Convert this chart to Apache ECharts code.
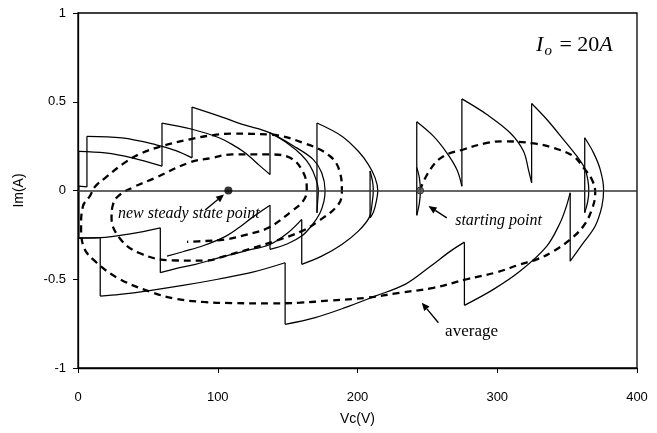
<!DOCTYPE html>
<html>
<head>
<meta charset="utf-8">
<script src="https://cdn.jsdelivr.net/npm/echarts/dist/echarts.min.js"></script>
<style>
  html, body { margin: 0; padding: 0; background: #ffffff; }
  #chart { width: 657px; height: 433px; }
</style>
</head>
<body>
<div id="chart"></div>
<script>
// Axis ticks
const xTicks = [0, 100, 200, 300, 400];
const yTicks = [-1, -0.5, 0, 0.5, 1];

// Solid trajectory, [Vc (V), Im (A)], one arc per entry; consecutive arcs are joined by switching jumps
const outerLoopArcs = [
  [[242.4, 0.13], [244.3, 0.07], [245, 0], [244.3, -0.07], [242.4, -0.14]],
  [[242.4, 0.387], [254.3, 0.306], [263.9, 0.212], [271.1, 0.118], [274.7, 0.024]],
  [[274.7, 0.516], [292.6, 0.428], [309.2, 0.325], [318.8, 0.221], [322.3, 0.118], [324.6, 0.043]],
  [[324.6, 0.49], [335.5, 0.40], [347.4, 0.287], [357, 0.193], [362.4, 0.128], [364.8, 0.06], [365.5, 0], [364.8, -0.06], [362.6, -0.125]],
  [[362.6, 0.297], [368.9, 0.212], [373.7, 0.118], [376.1, 0.006], [374.9, -0.088], [370.1, -0.2], [361.7, -0.294], [352.2, -0.398]],
  [[352.2, -0.013], [349, -0.1], [345, -0.182], [335.5, -0.313], [316.4, -0.454], [297.3, -0.557], [276.5, -0.647]],
  [[276.5, -0.291], [266.3, -0.343], [252, -0.428], [234, -0.529], [212.6, -0.595], [191.1, -0.66], [169.7, -0.716], [148.2, -0.754]],
  [[148.2, -0.407], [125, -0.46], [100, -0.5], [75, -0.535], [50, -0.565], [30, -0.585], [15.9, -0.595]],
  [[15.9, -0.266], [8, -0.267], [0.5, -0.268]]
];
const middleLoopArcs = [
  [[0.5, 0.221], [19.5, 0.212], [38.7, 0.184], [60.1, 0.137]],
  [[60.1, 0.38], [81.6, 0.345], [100, 0.3], [110.2, 0.26], [120, 0.21], [130, 0.14], [137.4, 0.09]],
  [[137.4, 0.325], [150, 0.265], [160, 0.2], [166, 0.14], [170, 0.07], [172, 0], [171.5, -0.06], [171, -0.125]],
  [[171, 0.38], [188.8, 0.306], [200.6, 0.221], [207.8, 0.146], [212.6, 0.071], [214.5, 0], [213.5, -0.06], [211.5, -0.12], [209, -0.154]],
  [[209, 0.11], [210.8, 0.05], [211.3, 0], [210.5, -0.07], [208.5, -0.15], [200.6, -0.229], [188.8, -0.304], [174.4, -0.37], [160.1, -0.416]],
  [[160.1, -0.163], [150, -0.24], [137.4, -0.304], [120, -0.34], [105, -0.37], [84, -0.416], [70, -0.44], [58.9, -0.463]],
  [[58.9, -0.21], [37.4, -0.244], [15.9, -0.266], [0.5, -0.268]]
];
const innerLoopArcs = [
  [[0.5, 0.024], [6.4, 0.02]],
  [[6.4, 0.305], [31.5, 0.296], [55.3, 0.259], [70, 0.225], [81.6, 0.184]],
  [[81.6, 0.47], [101.6, 0.418], [118.3, 0.371], [137.4, 0.325], [156.5, 0.24], [168.4, 0.174], [174.4, 0.1], [176.8, 0], [176, -0.06], [173, -0.13], [167, -0.2], [160, -0.257], [150, -0.3], [137.4, -0.332]],
  [[137.4, -0.083], [125, -0.15], [115, -0.21], [105.2, -0.26], [90, -0.31], [75, -0.345], [63.7, -0.37]]
];

// Averaged trajectory (dashed spiral)
const averageOuter = [
  [244.5, 0], [252, 0.118], [261.5, 0.193], [275.8, 0.231], [292.6, 0.268], [305, 0.277], [326, 0.265],
  [340.2, 0.24], [354.5, 0.193], [361.7, 0.128], [367.7, 0.062], [370.1, -0.013], [367.7, -0.107],
  [361.7, -0.2], [352.2, -0.276], [340.2, -0.342], [328.3, -0.388], [316.4, -0.416], [300, -0.46],
  [278.2, -0.5], [254.3, -0.548], [230.5, -0.576], [206.7, -0.604], [180, -0.62], [158.9, -0.632],
  [137.4, -0.636], [110, -0.634], [89.7, -0.628], [70, -0.61], [53.9, -0.576], [30.1, -0.5],
  [13.4, -0.407], [3.8, -0.313], [2.2, -0.2], [3.5, -0.09], [8.6, -0.03], [12, 0.02]
];
const averageMiddle = [
  [19.5, 0.071], [31.5, 0.146], [43.4, 0.203], [60.1, 0.25], [79.2, 0.287], [95.9, 0.311],
  [110.2, 0.32], [137.4, 0.315], [161.3, 0.268], [180.4, 0.193], [187.5, 0.1], [188.8, 0],
  [186.3, -0.079], [172, -0.173], [160.1, -0.229], [141, -0.285], [117.2, -0.342], [105, -0.37],
  [91.1, -0.395], [67.3, -0.394], [43.4, -0.351], [30, -0.27], [24, -0.154], [25, -0.08], [29, -0.03]
];
const averageInner = [
  [40, 0.02], [55.3, 0.071], [79.2, 0.156], [95.9, 0.184], [110.2, 0.203], [137.4, 0.203],
  [151.8, 0.184], [161.3, 0.1], [163.7, 0], [161, -0.06], [153, -0.116], [136.2, -0.21],
  [120, -0.25], [105.2, -0.276], [90, -0.285], [78, -0.289]
];

// Marked states
const startingPoint = [244.8, 0];
const steadyStatePoint = [107.6, 0];

const arcs = outerLoopArcs.concat(middleLoopArcs, innerLoopArcs);
const averagePath = averageOuter.concat(averageMiddle, averageInner);

const chart = echarts.init(document.getElementById('chart'), null, { renderer: 'canvas' });

const solidStyle = { color: '#000', width: 1.25 };
const series = [];

// arcs of the trajectory
arcs.forEach(function (arc, i) {
  series.push({
    type: 'line', data: arc, smooth: 0.35, showSymbol: false, silent: true,
    lineStyle: solidStyle, z: 3,
    markLine: i === 0 ? {
      silent: true, symbol: 'none', label: { show: false },
      lineStyle: { color: '#333', width: 1.5, type: 'solid' },
      data: [{ yAxis: 0 }]
    } : undefined
  });
});
// vertical jumps between consecutive arcs
for (let i = 0; i < arcs.length - 1; i++) {
  const a = arcs[i][arcs[i].length - 1];
  const b = arcs[i + 1][0];
  series.push({
    type: 'line', data: [a, b], showSymbol: false, silent: true,
    lineStyle: solidStyle, z: 3
  });
}
// averaged trajectory
series.push({
  type: 'line', data: averagePath, smooth: 0.4, showSymbol: false, silent: true,
  lineStyle: { color: '#000', width: 2.3, type: [7, 5] }, z: 2
});
// marked points
series.push({
  type: 'scatter', data: [steadyStatePoint], symbolSize: 8, silent: true,
  itemStyle: { color: '#000' }, z: 5
});
series.push({
  type: 'scatter', data: [startingPoint], symbolSize: 7, silent: true,
  itemStyle: { color: '#555', borderColor: '#222', borderWidth: 1 }, z: 5
});

const axisFont = { fontFamily: 'Liberation Sans, Arial, sans-serif', fontSize: 13, color: '#000' };

chart.setOption({
  animation: false,
  backgroundColor: '#fff',
  grid: { left: 78, right: 20, top: 13, bottom: 65, show: true, borderColor: '#000', borderWidth: 1.3, backgroundColor: 'transparent' },
  xAxis: {
    type: 'value', min: xTicks[0], max: xTicks[xTicks.length - 1], interval: xTicks[1] - xTicks[0],
    axisLine: { show: true, onZero: false, lineStyle: { color: '#000', width: 1.3 } },
    axisTick: { show: true, length: 5, lineStyle: { color: '#000' } },
    axisLabel: Object.assign({ margin: 23 }, axisFont),
    splitLine: { show: false },
    name: 'Vc(V)', nameLocation: 'middle', nameGap: 44,
    nameTextStyle: Object.assign({}, axisFont, { fontSize: 14 })
  },
  yAxis: {
    type: 'value', min: yTicks[0], max: yTicks[yTicks.length - 1], interval: yTicks[1] - yTicks[0],
    axisLine: { show: true, onZero: false, lineStyle: { color: '#000', width: 1.3 } },
    axisTick: { show: true, length: 5, lineStyle: { color: '#000' } },
    axisLabel: Object.assign({ margin: 12 }, axisFont),
    splitLine: { show: false },
    name: 'Im(A)', nameLocation: 'middle', nameGap: 52, nameRotate: 90,
    nameTextStyle: Object.assign({}, axisFont, { fontSize: 14 })
  },
  series: series
});

// Annotations anchored in data coordinates
const px = function (p) { return chart.convertToPixel({ gridIndex: 0 }, p); };
const serif = 'Liberation Serif, Times New Roman, serif';

function arrow(from, to) {
  const a = px(from), b = px(to);
  const dx = b[0] - a[0], dy = b[1] - a[1];
  const len = Math.sqrt(dx * dx + dy * dy);
  const ux = dx / len, uy = dy / len;
  const hl = 8, hw = 3.5;
  const bx = b[0] - ux * hl, by = b[1] - uy * hl;
  return [
    { type: 'line', shape: { x1: a[0], y1: a[1], x2: bx, y2: by }, style: { stroke: '#000', lineWidth: 1.4 }, silent: true },
    { type: 'polygon', shape: { points: [[b[0], b[1]], [bx - uy * hw, by + ux * hw], [bx + uy * hw, by - ux * hw]] }, style: { fill: '#000' }, silent: true }
  ];
}
function label(pos, text, style) {
  const p = px(pos);
  return { type: 'text', x: p[0], y: p[1], silent: true,
    style: Object.assign({ text: text, fill: '#000', font: style, textAlign: 'left', textVerticalAlign: 'middle' }) };
}

const graphics = []
  .concat(arrow([91, -0.11], [104.5, -0.022]))
  .concat(arrow([263.9, -0.154], [250.8, -0.088]))
  .concat(arrow([257.9, -0.745], [246, -0.632]))
  .concat([
    label([28.6, -0.129], 'new steady state point', 'italic 16px ' + serif),
    label([269.9, -0.169], 'starting point', 'italic 16px ' + serif),
    label([262.7, -0.793], 'average', '17px ' + serif)
  ]);

const ioPos = px([327.8, 0.82]);
graphics.push({
  type: 'text', x: ioPos[0], y: ioPos[1], silent: true,
  style: {
    text: '{i|I}{s|o}{n| = 20}{i|A}',
    textVerticalAlign: 'middle',
    rich: {
      i: { fontFamily: serif, fontStyle: 'italic', fontSize: 22, fill: '#000', lineHeight: 26 },
      s: { fontFamily: serif, fontStyle: 'italic', fontSize: 15, fill: '#000', lineHeight: 26, padding: [13, 2, 0, 1] },
      n: { fontFamily: serif, fontSize: 22, fill: '#000', lineHeight: 26 }
    }
  }
});

chart.setOption({ graphic: graphics });
</script>
</body>
</html>
